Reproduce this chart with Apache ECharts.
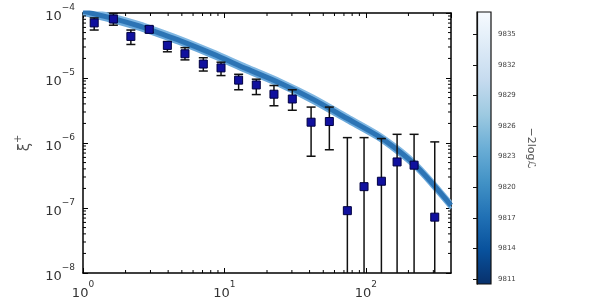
<!DOCTYPE html>
<html><head><meta charset="utf-8">
<script src="https://cdn.jsdelivr.net/npm/echarts@6/dist/echarts.min.js"></script>
<style>html,body{margin:0;padding:0;background:#fff}#c{width:600px;height:300px}</style>
</head><body><div id="c"></div>
<script>
// ---- data ----
const xRange = [1, 400];
const yRange = [1e-8, 1e-4];
const xValues = [1.2, 1.64, 2.18, 2.94, 3.95, 5.26, 7.09, 9.46, 12.6, 16.8, 22.4, 30.2, 41.0, 55.2, 74.0, 97.1, 128.8, 166.3, 219.3, 307];
const yValues = [7.04e-5, 8.07e-5, 4.36e-5, 5.60e-5, 3.17e-5, 2.36e-5, 1.64e-5, 1.43e-5, 9.27e-6, 7.82e-6, 5.63e-6, 4.75e-6, 2.09e-6, 2.14e-6, 9.1e-8, 2.13e-7, 2.58e-7, 5.11e-7, 4.56e-7, 7.23e-8];
const yUpper = [8.4e-5, 9.8e-5, 5.47e-5, 6.2e-5, 3.63e-5, 2.93e-5, 2.05e-5, 1.75e-5, 1.14e-5, 9.59e-6, 7.66e-6, 6.59e-6, 3.57e-6, 3.57e-6, 1.21e-6, 1.21e-6, 1.17e-6, 1.36e-6, 1.36e-6, 1.04e-6];
const yLower = [5.47e-5, 6.49e-5, 3.28e-5, 5.0e-5, 2.53e-5, 1.90e-5, 1.28e-5, 1.09e-5, 6.59e-6, 5.56e-6, 3.74e-6, 3.19e-6, 6.26e-7, 7.87e-7, 1e-9, 1e-9, 1e-9, 1e-9, 1e-9, 1e-9];

const modelX = [1, 1.6, 2.5, 2.93, 4.85, 8.35, 14.4, 24.7, 42.5, 73.3, 119.4, 166, 219, 284, 400];
const modelUpper = [1.203e-4, 9.34e-5, 7.08e-5, 6.28e-5, 4.22e-5, 2.61e-5, 1.55e-5, 9.40e-6, 5.26e-6, 2.69e-6, 1.48e-6, 8.91e-7, 5.37e-7, 2.95e-7, 1.23e-7];
const modelCentre = [1.072e-4, 8.32e-5, 6.31e-5, 5.60e-5, 3.76e-5, 2.33e-5, 1.38e-5, 8.38e-6, 4.69e-6, 2.40e-6, 1.32e-6, 7.94e-7, 4.79e-7, 2.63e-7, 1.10e-7];
const modelLower = [9.55e-5, 7.41e-5, 5.62e-5, 4.99e-5, 3.35e-5, 2.08e-5, 1.23e-5, 7.47e-6, 4.18e-6, 2.14e-6, 1.18e-6, 7.07e-7, 4.27e-7, 2.34e-7, 9.80e-8];

const xMinorTicks = [2,3,4,5,6,7,8,9,20,30,40,50,60,70,80,90,200,300];
const yMinorTicks = [2e-8,3e-8,4e-8,5e-8,6e-8,7e-8,8e-8,9e-8,2e-7,3e-7,4e-7,5e-7,6e-7,7e-7,8e-7,9e-7,2e-6,3e-6,4e-6,5e-6,6e-6,7e-6,8e-6,9e-6,2e-5,3e-5,4e-5,5e-5,6e-5,7e-5,8e-5,9e-5];
const cbarRange = [9810.5, 9837.2];
const cbarTicks = [9811, 9814, 9817, 9820, 9823, 9826, 9829, 9832, 9835];

// ---- chart ----
const FONT = 'DejaVu Sans';
const chart = echarts.init(document.getElementById('c'), null, {renderer: 'canvas'});
function powLabel(v) {
  const l = Math.log10(v), e = Math.round(l);
  if (Math.abs(l - e) > 1e-6) return '';
  return '{b|10}{s|' + (e < 0 ? '\u2212' + (-e) : e) + '}';
}
const labelRich = {
  b: {fontSize: 13, fontFamily: FONT, color: '#333', lineHeight: 20, verticalAlign: 'bottom'},
  s: {fontSize: 9, fontFamily: FONT, color: '#333', verticalAlign: 'top'}
};
const frameLine = {show: true, lineStyle: {color: '#000', width: 1.5}};
const majorTick = {show: true, inside: true, length: 5, lineStyle: {color: '#000', width: 1}};
const tickStyle = {stroke: '#000', lineWidth: 1};
const bandLine = (data, color, width, z) => ({
  type: 'line', xAxisIndex: 0, yAxisIndex: 0, data: data, smooth: 0.25,
  showSymbol: false, lineStyle: {color: color, width: width}, z: z, silent: true
});

chart.setOption({
  animation: false,
  backgroundColor: '#fff',
  grid: [
    {left: 83, top: 13, width: 368, height: 270, show: false},
    {left: 477, top: 12, width: 14, height: 272, show: true, borderColor: '#111', borderWidth: 1.2,
     backgroundColor: {type: 'linear', x: 0, y: 0, x2: 0, y2: 1, colorStops: [
       {offset: 0, color: '#f7fbff'}, {offset: 0.125, color: '#deebf7'}, {offset: 0.25, color: '#c6dbef'},
       {offset: 0.375, color: '#9ecae1'}, {offset: 0.5, color: '#6baed6'}, {offset: 0.625, color: '#4292c6'},
       {offset: 0.75, color: '#2171b5'}, {offset: 0.875, color: '#08519c'}, {offset: 1, color: '#08306b'}]}}
  ],
  xAxis: [
    {type: 'log', gridIndex: 0, min: xRange[0], max: xRange[1], position: 'bottom',
     axisLine: frameLine, axisTick: majorTick, splitLine: {show: false},
     axisLabel: {formatter: powLabel, rich: labelRich, margin: 7, showMaxLabel: false}},
    {type: 'log', gridIndex: 0, min: xRange[0], max: xRange[1], position: 'top',
     axisLine: frameLine, axisTick: majorTick, splitLine: {show: false}, axisLabel: {show: false}},
    {type: 'value', gridIndex: 1, min: 0, max: 1, show: false}
  ],
  yAxis: [
    {type: 'log', gridIndex: 0, min: yRange[0], max: yRange[1], position: 'left',
     axisLine: frameLine, axisTick: majorTick, splitLine: {show: false},
     axisLabel: {formatter: powLabel, rich: labelRich, margin: 8},
     name: '{a|\u03be}{p|+}', nameLocation: 'middle', nameRotate: 90, nameGap: 50,
     nameTextStyle: {rich: {a: {fontSize: 15, fontFamily: FONT, color: '#555', lineHeight: 20, verticalAlign: 'bottom'},
                            p: {fontSize: 10, fontFamily: FONT, color: '#555', verticalAlign: 'top'}}}},
    {type: 'log', gridIndex: 0, min: yRange[0], max: yRange[1], position: 'right',
     axisLine: frameLine, axisTick: majorTick, splitLine: {show: false}, axisLabel: {show: false}},
    {type: 'value', gridIndex: 1, min: cbarRange[0], max: cbarRange[1], position: 'right',
     axisLine: {show: true, lineStyle: {color: '#111', width: 1.2}},
     axisTick: {show: true, inside: true, length: 4, customValues: cbarTicks, lineStyle: {color: '#111', width: 1}},
     axisLabel: {customValues: cbarTicks, formatter: v => String(v), fontSize: 7, fontFamily: FONT, color: '#444', margin: 7},
     splitLine: {show: false},
     name: '\u22122log\u2112', nameLocation: 'middle', nameRotate: -90, nameGap: 34,
     nameTextStyle: {fontSize: 11, fontFamily: FONT, color: '#555'}}
  ],
  series: [
    bandLine(modelX.map((x, i) => [x, modelUpper[i]]), '#80b7e2', 3, 2),
    bandLine(modelX.map((x, i) => [x, modelLower[i]]), '#6aa8da', 3, 2),
    bandLine(modelX.map((x, i) => [x, modelCentre[i]]), '#2c74b5', 5, 3),
    {type: 'custom', xAxisIndex: 0, yAxisIndex: 0, z: 4, clip: true, silent: true,
     data: xValues.map((x, i) => [x, yLower[i], yUpper[i]]), encode: {x: 0, y: [1, 2]},
     renderItem: function (params, api) {
       const x = api.value(0);
       const pLo = api.coord([x, api.value(1)]), pHi = api.coord([x, api.value(2)]);
       const cap = 4.5, st = {stroke: '#111', lineWidth: 1.5};
       return {type: 'group', children: [
         {type: 'line', shape: {x1: pLo[0], y1: pLo[1], x2: pHi[0], y2: pHi[1]}, style: st},
         {type: 'line', shape: {x1: pLo[0] - cap, y1: pLo[1], x2: pLo[0] + cap, y2: pLo[1]}, style: st},
         {type: 'line', shape: {x1: pHi[0] - cap, y1: pHi[1], x2: pHi[0] + cap, y2: pHi[1]}, style: st}
       ]};
     }},
    {type: 'scatter', xAxisIndex: 0, yAxisIndex: 0, z: 5, symbol: 'rect', symbolSize: 8,
     data: xValues.map((x, i) => [x, yValues[i]]),
     itemStyle: {color: '#10109e', borderColor: '#000040', borderWidth: 1, opacity: 1}},
    {type: 'custom', xAxisIndex: 0, yAxisIndex: 0, z: 6, silent: true,
     data: xMinorTicks.map(v => [v, yRange[0]]), encode: {x: 0, y: 1},
     renderItem: function (params, api) {
       const v = api.value(0);
       const pb = api.coord([v, yRange[0]]), pt = api.coord([v, yRange[1]]);
       return {type: 'group', children: [
         {type: 'line', shape: {x1: pb[0], y1: pb[1], x2: pb[0], y2: pb[1] - 3}, style: tickStyle},
         {type: 'line', shape: {x1: pt[0], y1: pt[1], x2: pt[0], y2: pt[1] + 3}, style: tickStyle}
       ]};
     }},
    {type: 'custom', xAxisIndex: 0, yAxisIndex: 0, z: 6, silent: true,
     data: yMinorTicks.map(v => [xRange[0], v]), encode: {x: 0, y: 1},
     renderItem: function (params, api) {
       const v = api.value(1);
       const pl = api.coord([xRange[0], v]), pr = api.coord([xRange[1], v]);
       return {type: 'group', children: [
         {type: 'line', shape: {x1: pl[0], y1: pl[1], x2: pl[0] + 3, y2: pl[1]}, style: tickStyle},
         {type: 'line', shape: {x1: pr[0], y1: pr[1], x2: pr[0] - 3, y2: pr[1]}, style: tickStyle}
       ]};
     }}
  ]
});
</script>
</body></html>
